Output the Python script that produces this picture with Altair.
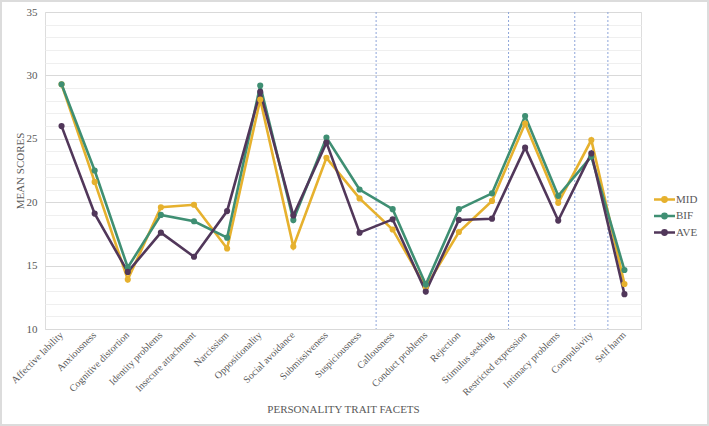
import altair as alt
import pandas as pd

# Personality trait facets on the x axis
facets = [
    "Affective lability", "Anxiousness", "Cognitive distortion", "Identity problems",
    "Insecure attachment", "Narcissism", "Oppositionality", "Social avoidance",
    "Submissiveness", "Suspiciousness", "Callousness", "Conduct problems",
    "Rejection", "Stimulus seeking", "Restricted expression", "Intimacy problems",
    "Compulsivity", "Self harm",
]

# Mean scores per group
mid = [29.3, 21.6, 13.9, 19.6, 19.8, 16.35, 28.1, 16.5, 23.5, 20.3,
       17.85, 13.3, 17.65, 20.1, 26.2, 19.95, 24.9, 13.55]
bif = [29.3, 22.5, 14.85, 19.0, 18.5, 17.2, 29.2, 18.6, 25.1, 21.0,
       19.45, 13.5, 19.45, 20.7, 26.8, 20.5, 23.6, 14.65]
ave = [26.0, 19.1, 14.5, 17.6, 15.7, 19.3, 28.7, 18.95, 24.7, 17.6,
       18.65, 12.95, 18.6, 18.7, 24.3, 18.55, 23.85, 12.75]

series = ["MID", "BIF", "AVE"]
colors = ["#E6B12E", "#3F8F73", "#51375A"]

# Group boundaries drawn as dashed dividers after these facets
dividers = ["Suspiciousness", "Stimulus seeking", "Intimacy problems", "Compulsivity"]

rows = []
for name, vals in zip(series, [mid, bif, ave]):
    for f, v in zip(facets, vals):
        rows.append({"facet": f, "group": name, "score": v})
df = pd.DataFrame(rows)

W, H = 596, 317
FONT = "Liberation Serif"
TXT = "#595959"

x_scale = alt.Scale(type="band", domain=facets, paddingInner=0, paddingOuter=0)
y_scale = alt.Scale(domain=[10, 35], nice=False, zero=False)

# Legend glyph: a short line with a dot in the middle
legend_symbol = "M-1.5,0L1.5,0M-0.3,0a0.3,0.3 0 1,0 0.6,0a0.3,0.3 0 1,0 -0.6,0Z"

lines = alt.Chart(df).mark_line(
    point=alt.OverlayMarkDef(size=38, filled=True, opacity=1),
    strokeWidth=2.6,
).encode(
    x=alt.X(
        "facet:N", scale=x_scale, bandPosition=0.5, sort=facets,
        axis=alt.Axis(
            title="PERSONALITY TRAIT FACETS", labelAngle=-45, labelFont=FONT,
            labelFontSize=10, labelColor=TXT, titleFont=FONT, titleFontSize=11,
            titleFontWeight="normal", titleColor=TXT, ticks=False, domain=False,
            grid=False, labelPadding=4, titlePadding=6,
        ),
    ),
    y=alt.Y(
        "score:Q", scale=y_scale,
        axis=alt.Axis(
            title="MEAN SCORES", values=list(range(10, 36)),
            labelExpr="datum.value % 5 === 0 ? datum.label : ''",
            gridColor={"condition": {"test": "datum.value % 5 === 0", "value": "#d9d9d9"},
                       "value": "#efefef"},
            gridWidth=1, ticks=False, domain=False, labelFont=FONT, labelFontSize=11,
            labelColor=TXT, labelPadding=8, titleFont=FONT, titleFontSize=11,
            titleFontWeight="normal", titleColor=TXT, titlePadding=1,
        ),
    ),
    color=alt.Color(
        "group:N", scale=alt.Scale(domain=series, range=colors), sort=series,
        legend=alt.Legend(
            title=None, orient="none", legendX=611, legendY=179,
            symbolType=legend_symbol, symbolSize=196, symbolStrokeWidth=2.6,
            labelFont=FONT, labelFontSize=11, labelColor=TXT, rowPadding=0.5,
            labelOffset=3,
        ),
    ),
    order=alt.Order("facet_idx:Q"),
).transform_calculate(
    facet_idx="indexof(" + str(facets) + ", datum.facet)"
)

rules = alt.Chart(pd.DataFrame({"facet": dividers})).mark_rule(
    color="#8EA6DA", strokeDash=[2, 2], strokeWidth=1
).encode(x=alt.X("facet:N", scale=x_scale, bandPosition=1, sort=facets))

# Light outer frame around the figure
frame = alt.Chart(pd.DataFrame({"k": [0]})).mark_rect(
    fill=None, stroke="#dcdcdc", strokeWidth=2, clip=False
).encode(
    x=alt.value(-44), x2=alt.value(W + 67), y=alt.value(-11), y2=alt.value(H + 96)
)

chart = alt.layer(rules, lines, frame).properties(
    width=W, height=H,
    autosize=alt.AutoSizeParams(type="none"),
    padding={"left": 45, "top": 12, "right": 68, "bottom": 97},
).configure_view(stroke=None).configure(background="white")

chart.save("out.html", embed_options={"renderer": "svg", "actions": False})
